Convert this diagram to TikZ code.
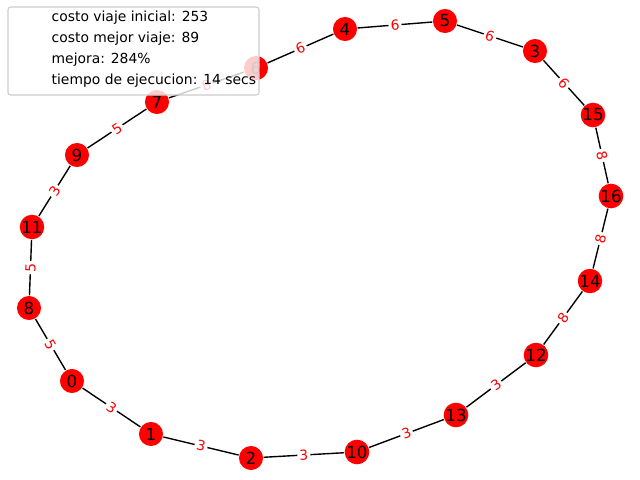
\documentclass[tikz,border=0pt]{standalone}
\usepackage{fontspec}
\setmainfont{DejaVu Sans}
\begin{document}
\begin{tikzpicture}[x=0.72pt, y=-0.72pt, line width=1pt,
        city/.style={circle, fill=red, minimum size=17.3pt, inner sep=0pt, font=\fontsize{12}{14}\selectfont},
        cost/.style={sloped, fill=white, text=red, inner sep=1.5pt, rounded corners=2pt, font=\fontsize{10}{12}\selectfont},
        entry/.style={anchor=west, inner sep=0pt, font=\fontsize{10}{12}\selectfont}]
        \useasboundingbox (0, 0) rectangle (640, 480);
        % ciudades
        \node[city] (n0) at (72, 381) {0};
        \node[city] (n1) at (151, 434) {1};
        \node[city] (n2) at (251, 458) {2};
        \node[city] (n10) at (357, 452) {10};
        \node[city] (n13) at (456, 415) {13};
        \node[city] (n12) at (536, 355) {12};
        \node[city] (n14) at (590, 281) {14};
        \node[city] (n16) at (611, 196) {16};
        \node[city] (n15) at (593, 115) {15};
        \node[city] (n3) at (535, 51) {3};
        \node[city] (n5) at (445, 21) {5};
        \node[city] (n4) at (345, 29) {4};
        \node[city] (n6) at (256, 68) {6};
        \node[city] (n7) at (157, 102) {7};
        \node[city] (n9) at (77, 155) {9};
        \node[city] (n11) at (32, 227) {11};
        \node[city] (n8) at (29, 308) {8};
        % recorrido
        \draw (n0) -- node[cost] {3} (n1);
        \draw (n1) -- node[cost] {3} (n2);
        \draw (n2) -- node[cost] {3} (n10);
        \draw (n10) -- node[cost] {3} (n13);
        \draw (n13) -- node[cost] {3} (n12);
        \draw (n12) -- node[cost] {8} (n14);
        \draw (n14) -- node[cost] {8} (n16);
        \draw (n16) -- node[cost] {8} (n15);
        \draw (n15) -- node[cost] {6} (n3);
        \draw (n3) -- node[cost] {6} (n5);
        \draw (n5) -- node[cost] {6} (n4);
        \draw (n4) -- node[cost] {6} (n6);
        \draw (n6) -- node[cost] {8} (n7);
        \draw (n7) -- node[cost] {5} (n9);
        \draw (n9) -- node[cost] {3} (n11);
        \draw (n11) -- node[cost] {5} (n8);
        \draw (n8) -- node[cost] {5} (n0);
        % leyenda
        \draw[draw=black!20, fill=white, fill opacity=0.8, line width=0.8pt, rounded corners=2pt] (8, 7) rectangle (259, 95);
        \node[entry] (inicial) at (51, 18) {costo viaje inicial: 253};
        \node[entry] (mejor) at (51, 39) {costo mejor viaje: 89};
        \node[entry] (mejora) at (51, 60) {mejora: 284\%};
        \node[entry] (tiempo) at (51, 81) {tiempo de ejecucion: 14 secs};
    \end{tikzpicture}
\end{document}
